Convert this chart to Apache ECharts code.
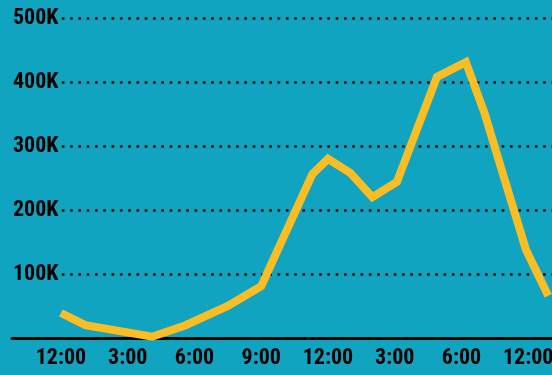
<!DOCTYPE html>
<html>
<head>
<meta charset="utf-8">
<script src="https://cdn.jsdelivr.net/npm/echarts@6/dist/echarts.min.js"></script>
<style>
  html, body { margin: 0; padding: 0; background: #11a4c0; }
  #chart { width: 552px; height: 375px; }
</style>
</head>
<body>
<div id="chart"></div>
<script>
// Hours since midnight for each reading
const hours = [0, 1.1, 4.1, 5.6, 7.5, 9, 11.3, 12, 13, 14, 15.1, 16.9, 18.2, 19.05, 19.9, 20.9, 21.9];
// Readings at those hours
const values = [39000, 20000, 2000, 20000, 50000, 81000, 256000, 280000, 258000, 220000, 244000, 408000, 431000, 350000, 252000, 138000, 66000];

// Time-axis tick positions and their labels
const tickHours = [0, 3, 6, 9, 12, 15, 18, 21];
const tickLabels = ['12:00', '3:00', '6:00', '9:00', '12:00', '3:00', '6:00', '12:00'];

const BG = '#11a4c0';
const LABEL_FONT = "'Roboto Condensed', 'Liberation Sans Narrow', Roboto, sans-serif";

const points = hours.map((h, i) => [h, values[i]]);

const chart = echarts.init(document.getElementById('chart'), null, { renderer: 'canvas' });
chart.setOption({
  backgroundColor: BG,
  animation: false,
  grid: { left: 12, right: 0, top: 18, bottom: 37, containLabel: false, outerBoundsMode: 'none' },
  xAxis: {
    type: 'value',
    min: -2.2,
    max: 22.07,
    splitLine: { show: false },
    axisTick: { show: false },
    axisLine: { show: true, onZero: false, lineStyle: { color: '#000', width: 3 } },
    axisLabel: {
      customValues: tickHours,
      formatter: (v) => tickLabels[tickHours.indexOf(v)],
      color: '#000',
      fontFamily: LABEL_FONT,
      fontWeight: 'bold',
      fontSize: 22,
      margin: 9,
      hideOverlap: false
    }
  },
  yAxis: {
    type: 'value',
    min: 0,
    max: 500000,
    interval: 100000,
    axisLine: { show: false },
    axisTick: { show: false },
    splitLine: {
      show: true,
      lineStyle: { color: '#0a0a0a', width: 2.6, type: [2.6, 5.7], cap: 'butt' }
    },
    axisLabel: {
      inside: true,
      margin: -1,
      showMinLabel: false,
      color: '#000',
      fontFamily: LABEL_FONT,
      fontWeight: 'bold',
      fontSize: 22,
      verticalAlign: 'middle',
      backgroundColor: BG,
      padding: [0, 1, 0, 2],
      formatter: (v) => (v / 1000) + 'K'
    }
  },
  series: [{
    type: 'line',
    data: points,
    symbol: 'none',
    smooth: false,
    clip: false,
    lineStyle: { color: '#fbbd24', width: 8, join: 'miter', cap: 'butt' },
    z: 3
  }]
});
</script>
</body>
</html>
